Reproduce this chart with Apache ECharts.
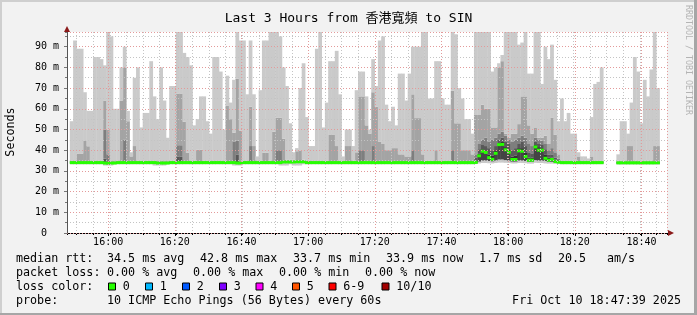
<!DOCTYPE html>
<html><head><meta charset="utf-8">
<script src="https://cdn.jsdelivr.net/npm/echarts@6/dist/echarts.min.js"></script>
<style>html,body{margin:0;padding:0;background:#f2f2f2}#c{width:697px;height:315px}</style>
</head><body><div id="c"></div>
<script>
// ---- data: one value per minute bin, 15:48 .. 18:47 (ms) ----
const rttMax = [54,93,89,89,68,59,59,85,85,84,
 81,100,95,60,60,80,90,59,39,75,
 80,51,58,58,83,66,55,80,64,46,
 71,71,100,100,87,85,81,52,55,66,
 66,54,48,85,85,78,50,76,63,74,
 100,93,93,67,93,67,37,69,93,93,
 100,100,100,95,80,71,53,39,41,70,
 82,56,42,42,89,100,51,63,83,83,
 88,67,37,50,50,42,69,78,78,66,
 50,84,71,93,95,62,54,61,52,77,
 77,64,77,90,90,90,100,100,65,65,
 83,83,65,62,62,100,96,70,65,55,
 55,48,100,100,100,100,100,78,80,82,
 86,100,100,100,100,91,92,100,77,77,
 100,100,72,90,84,91,74,54,65,54,
 58,48,48,39,37,37,36,56,72,73,
 80,null,null,null,null,38,54,54,48,63,
 85,78,53,74,66,79,100,70,null,null];
const rtt9 = [35.0,35.0,38.4,38.4,44.7,41.9,35.0,35.0,35.0,35.0,
 64.0,50.0,34.8,34.8,35.0,64.0,80.0,54.0,37.0,42.0,
 35.0,35.0,35.0,35.0,35.0,35.0,34.8,34.8,34.8,34.8,
 35.0,35.0,67.4,67.4,53.7,38.7,35.0,35.0,40.3,40.3,
 35.0,35.0,35.0,35.0,35.0,35.0,35.0,61.6,55.0,48.4,
 74.5,49.5,35.0,35.0,61.0,42.0,35.0,35.0,38.7,38.7,
 35.0,49.0,55.6,55.6,45.5,35.3,35.3,35.3,39.5,39.6,
 35.4,35.0,35.0,35.0,35.0,35.0,35.0,35.0,47.6,47.6,
 42.0,35.0,35.0,42.0,42.0,35.0,39.0,66.0,66.0,52.0,
 48.0,68.0,61.0,44.0,43.0,40.0,40.0,41.0,41.0,38.0,
 38.0,37.0,37.0,67.0,55.5,55.5,38.0,35.0,35.0,35.0,
 40.0,35.0,35.0,35.0,35.0,68.7,53.0,53.0,40.0,40.0,
 40.0,38.0,57.0,57.0,62.0,60.0,60.0,51.0,51.0,80.0,
 83.0,48.0,46.0,48.0,48.0,52.6,66.0,66.0,52.0,48.0,
 51.0,46.0,46.0,47.0,43.0,55.8,47.4,38.0,35.0,35.0,
 35.0,35.0,35.0,37.0,35.0,35.0,35.0,37.0,35.0,35.0,
 35.0,null,null,null,null,34.9,34.9,34.9,42.0,42.0,
 34.9,34.9,34.9,34.9,34.9,34.9,42.0,42.0,null,null];
const rtt8 = [34.6,34.6,34.6,34.6,34.6,34.6,34.6,34.6,34.6,34.6,
 50.0,38.0,34.4,34.4,34.6,34.6,45.0,34.6,34.6,34.6,
 34.6,34.6,34.6,34.6,34.6,34.6,34.4,34.4,34.4,34.4,
 34.6,34.6,42.4,42.4,34.6,34.6,34.6,34.6,34.6,34.6,
 34.6,34.6,34.6,34.6,34.6,34.6,34.6,34.6,34.6,44.0,
 44.7,34.4,34.6,34.6,42.0,34.6,34.6,34.6,34.6,34.6,
 34.6,34.6,40.0,40.0,34.9,34.9,34.9,34.9,35.0,35.0,
 35.0,34.6,34.6,34.6,34.6,34.6,34.6,34.6,34.6,34.6,
 34.6,34.6,34.6,34.6,34.6,34.6,34.6,40.0,40.0,34.6,
 34.6,42.0,34.6,34.6,34.6,34.6,34.6,34.6,34.6,34.6,
 34.6,34.6,34.6,40.0,34.6,34.6,34.6,34.6,34.6,34.6,
 34.6,34.6,34.6,34.6,34.6,40.0,34.6,34.6,34.6,34.6,
 34.6,34.8,38.0,43.0,45.0,46.0,44.0,45.0,46.0,48.0,
 49.0,47.0,45.0,44.0,45.0,46.0,47.0,46.0,43.0,42.0,
 46.0,45.0,44.5,43.0,40.0,41.0,39.0,36.0,34.6,34.6,
 34.6,34.6,34.6,34.6,34.6,34.6,34.6,34.6,34.6,34.6,
 34.6,null,null,null,null,34.5,34.5,34.5,34.5,34.5,
 34.5,34.5,34.5,34.5,34.5,34.5,34.5,34.5,null,null];
const rtt7 = [34.5,34.5,34.5,34.5,34.5,34.5,34.5,34.5,34.5,34.5,
 36.0,34.2,34.3,34.3,34.5,34.5,34.5,34.5,34.5,34.5,
 34.5,34.5,34.5,34.5,34.5,34.5,34.3,34.3,34.3,34.3,
 34.5,34.5,37.0,37.0,34.5,34.5,34.5,34.5,34.5,34.5,
 34.5,34.5,34.5,34.5,34.5,34.5,34.5,34.5,34.5,34.5,
 38.0,34.3,34.5,34.5,34.5,34.5,34.5,34.5,34.5,34.5,
 34.5,34.5,34.5,34.5,34.8,34.8,34.8,34.8,34.9,34.9,
 34.9,34.5,34.5,34.5,34.5,34.5,34.5,34.5,34.5,34.5,
 34.5,34.5,34.5,34.5,34.5,34.5,34.5,34.5,34.5,34.5,
 34.5,34.5,34.5,34.5,34.5,34.5,34.5,34.5,34.5,34.5,
 34.5,34.5,34.5,34.5,34.5,34.5,34.5,34.5,34.5,34.5,
 34.5,34.5,34.5,34.5,34.5,34.5,34.5,34.5,34.5,34.5,
 34.5,34.6,36.5,40.5,42.5,42.0,41.0,40.0,42.0,45.0,
 46.0,44.0,43.0,40.0,41.0,43.0,44.0,42.0,39.0,38.5,
 44.0,43.0,42.5,40.5,38.0,38.0,36.5,35.2,34.5,34.5,
 34.5,34.5,34.5,34.5,34.5,34.5,34.5,34.5,34.5,34.5,
 34.5,null,null,null,null,34.4,34.4,34.4,34.4,34.4,
 34.4,34.4,34.4,34.4,34.4,34.4,34.4,34.4,null,null];
const rtt6 = [34.4,34.4,34.4,34.4,34.4,34.4,34.4,34.4,34.4,34.4,
 34.2,34.1,34.2,34.2,34.4,34.4,34.4,34.4,34.4,34.4,
 34.4,34.4,34.4,34.4,34.4,34.4,34.2,34.2,34.2,34.2,
 34.4,34.4,34.4,34.4,34.4,34.4,34.4,34.4,34.4,34.4,
 34.4,34.4,34.4,34.4,34.4,34.4,34.4,34.4,34.4,34.4,
 34.2,34.2,34.4,34.4,34.4,34.4,34.4,34.4,34.4,34.4,
 34.4,34.4,34.4,34.4,34.7,34.7,34.7,34.7,34.8,34.8,
 34.8,34.4,34.4,34.4,34.4,34.4,34.4,34.4,34.4,34.4,
 34.4,34.4,34.4,34.4,34.4,34.4,34.4,34.4,34.4,34.4,
 34.4,34.4,34.4,34.4,34.4,34.4,34.4,34.4,34.4,34.4,
 34.4,34.4,34.4,34.4,34.4,34.4,34.4,34.4,34.4,34.4,
 34.4,34.4,34.4,34.4,34.4,34.4,34.4,34.4,34.4,34.4,
 34.4,34.4,35.0,38.5,40.5,40.0,38.0,37.5,40.0,43.5,
 44.0,41.5,40.5,37.0,37.5,41.0,41.0,39.0,36.5,36.5,
 42.5,41.5,41.0,38.0,36.5,36.5,35.5,34.8,34.4,34.4,
 34.4,34.4,34.4,34.4,34.4,34.4,34.4,34.4,34.4,34.4,
 34.4,null,null,null,null,34.3,34.3,34.3,34.3,34.3,
 34.3,34.3,34.3,34.3,34.3,34.3,34.3,34.3,null,null];
const rttMed = [34.0,34.0,34.0,34.0,34.0,34.0,34.0,34.0,34.0,34.0,
 33.8,33.7,33.8,33.8,34.0,34.0,34.0,34.0,34.0,34.0,
 34.0,34.0,34.0,34.0,34.0,34.0,33.8,33.8,33.8,33.8,
 34.0,34.0,34.0,34.0,34.0,34.0,34.0,34.0,34.0,34.0,
 34.0,34.0,34.0,34.0,34.0,34.0,34.0,34.0,34.0,34.0,
 33.8,33.8,34.0,34.0,34.0,34.0,34.0,34.0,34.0,34.0,
 34.0,34.0,34.0,34.0,34.3,34.3,34.3,34.3,34.4,34.4,
 34.4,34.0,34.0,34.0,34.0,34.0,34.0,34.0,34.0,34.0,
 34.0,34.0,34.0,34.0,34.0,34.0,34.0,34.0,34.0,34.0,
 34.0,34.0,34.0,34.0,34.0,34.0,34.0,34.0,34.0,34.0,
 34.0,34.0,34.0,34.0,34.0,34.0,34.0,34.0,34.0,34.0,
 34.0,34.0,34.0,34.0,34.0,34.0,34.0,34.0,34.0,34.0,
 34.0,34.0,34.1,37.3,39.5,38.9,36.4,35.6,38.5,42.7,
 42.8,40.2,39.0,35.5,35.5,39.7,39.5,37.0,35.2,35.2,
 41.6,40.0,40.0,36.1,35.2,35.5,34.5,34.2,34.0,34.0,
 34.0,34.0,34.0,34.0,34.0,34.0,34.0,34.0,34.0,34.0,
 34.0,null,null,null,null,33.9,33.9,33.9,33.9,33.9,
 33.9,33.9,33.9,33.9,33.9,33.9,33.9,33.9,null,null];
const rttLow = [33.6,33.6,33.6,33.6,33.6,33.6,33.6,33.6,33.6,33.6,
 33.4,33.3,33.4,33.4,33.6,33.6,33.6,33.6,33.6,33.6,
 33.6,33.6,33.6,33.6,33.6,33.6,33.4,33.4,33.4,33.4,
 33.6,33.6,33.6,33.6,33.6,33.6,33.6,33.6,33.6,33.6,
 33.6,33.6,33.6,33.6,33.6,33.6,33.6,33.6,33.6,33.6,
 33.4,33.4,33.6,33.6,33.6,33.6,33.6,33.6,33.6,33.6,
 33.6,33.6,33.6,33.6,33.9,33.9,33.9,33.9,34.0,34.0,
 34.0,33.6,33.6,33.6,33.6,33.6,33.6,33.6,33.6,33.6,
 33.6,33.6,33.6,33.6,33.6,33.6,33.6,33.6,33.6,33.6,
 33.6,33.6,33.6,33.6,33.6,33.6,33.6,33.6,33.6,33.6,
 33.6,33.6,33.6,33.6,33.6,33.6,33.6,33.6,33.6,33.6,
 33.6,33.6,33.6,33.6,33.6,33.6,33.6,33.6,33.6,33.6,
 33.6,33.6,33.7,34.5,35.0,35.0,34.8,34.6,35.0,35.5,
 35.5,35.2,35.0,34.5,34.5,35.0,35.0,34.8,34.5,34.5,
 35.2,35.0,35.0,34.8,34.5,34.4,34.2,33.9,33.6,33.6,
 33.6,33.6,33.6,33.6,33.6,33.6,33.6,33.6,33.6,33.6,
 33.6,null,null,null,null,33.5,33.5,33.5,33.5,33.5,
 33.5,33.5,33.5,33.5,33.5,33.5,33.5,33.5,null,null];
const rttMin = [33.2,33.2,33.2,33.2,33.2,33.2,33.2,33.2,33.2,33.2,
 32.6,32.6,32.6,33.2,33.2,33.2,33.2,33.2,33.2,33.2,
 33.2,33.2,33.2,33.2,33.2,32.6,32.6,32.6,32.6,33.2,
 33.2,33.2,33.2,33.2,33.2,33.2,33.2,33.2,33.2,33.2,
 33.2,33.2,33.2,33.2,33.2,33.2,33.2,33.2,33.2,32.6,
 32.6,32.6,33.2,33.2,33.2,33.2,33.2,33.2,33.2,33.2,
 33.2,33.2,33.2,32.6,32.6,32.6,33.2,32.6,32.6,32.6,
 33.2,33.2,33.2,33.2,33.2,33.2,33.2,33.2,33.2,33.2,
 33.2,33.2,33.2,33.2,33.2,33.2,33.2,33.2,33.2,33.2,
 33.2,33.2,33.2,33.2,33.2,33.2,33.2,33.2,33.2,33.2,
 33.2,33.2,33.2,33.2,33.2,33.2,33.2,33.2,33.2,33.2,
 33.2,33.2,33.2,33.2,33.2,33.2,33.2,33.2,33.2,33.2,
 33.2,33.2,33.3,33.6,33.8,33.8,33.7,33.6,33.8,34.0,
 34.0,33.9,33.8,33.6,33.6,33.8,33.8,33.7,33.5,33.5,
 33.9,33.8,33.8,33.6,33.5,33.5,33.4,33.3,33.2,33.2,
 33.2,33.2,33.2,33.2,33.2,33.2,33.2,33.2,33.2,33.2,
 33.2,null,null,null,null,33.1,33.1,33.1,33.1,33.1,
 33.1,33.1,33.1,33.1,33.1,33.1,33.1,33.1,null,null];
const yTickUnit = ' m';
const titleText = 'Last 3 Hours from 香港寬頻 to SIN';
const lossLabels = ['0','1','2','3','4','5','6-9','10/10'];
const lossColors = ['#26ff00','#00b8ff','#0059ff','#7e00ff','#ff00ff','#ff5500','#ff0000','#a10000'];

// ---- layout ----
const START = new Date(2025, 9, 10, 15, 47, 39).getTime();
const END = START + 3 * 3600 * 1000;
const FIRST_BIN = new Date(2025, 9, 10, 15, 48, 0).getTime();
const times = rttMax.map((_, k) => FIRST_BIN + k * 60000 + 30000);
const MED_HALF = 0.72;
const BAR_W = 3.75;
const MONO = "'DejaVu Sans Mono', 'Noto Sans CJK TC', monospace";
// time-scale picks the nice step just below the requested one
const MINOR_STEP = 5.5 * 60000;   // -> 5 min grid
const MAJOR_STEP = 21 * 60000;    // -> 20 min grid

function diff(hi, lo) {
  return times.map((t, k) => (hi[k] == null) ? [t, null] : [t, lo ? +(hi[k] - lo[k]).toFixed(3) : hi[k]]);
}
const bands = [
  [rttMin, null, 'rgba(0,0,0,0)'],
  [rttLow, rttMin, '#cacaca'],
  [rttMed, rttLow, '#444444'],
  [rtt6, rttMed, '#323232'],
  [rtt7, rtt6, '#585858'],
  [rtt8, rtt7, '#7e7e7e'],
  [rtt9, rtt8, '#a4a4a4'],
  [rttMax, rtt9, '#cacaca']
];
const series = bands.map((b, i) => ({
  type: 'bar', stack: 'smoke', xAxisIndex: 0, yAxisIndex: 0,
  barWidth: BAR_W, barGap: '-100%', silent: true,
  itemStyle: { color: b[2], borderWidth: 0 },
  data: diff(b[0], b[1])
}));
series.push({
  type: 'bar', stack: 'median', barWidth: BAR_W, barGap: '-100%', silent: true,
  itemStyle: { color: 'rgba(0,0,0,0)' },
  data: times.map((t, k) => [t, rttMed[k] == null ? null : +(rttMed[k] - MED_HALF).toFixed(3)])
});
series.push({
  type: 'bar', stack: 'median', barWidth: BAR_W, barGap: '-100%', silent: true,
  itemStyle: { color: '#26ff00' },
  data: times.map((t, k) => [t, rttMed[k] == null ? null : 2 * MED_HALF])
});

const pad = n => (n < 10 ? '0' : '') + n;
const chart = echarts.init(document.getElementById('c'), null, { renderer: 'canvas' });

const legendFont = { fontFamily: MONO, fontSize: 11.7, fill: '#000' };
function txt(x, y, s, extra) {
  return { type: 'text', x, y, z: 10, style: Object.assign({ text: s, verticalAlign: 'middle', align: 'left' }, legendFont, extra || {}) };
}
const graphics = [
  { type: 'rect', shape: { x: 0, y: 0, width: 697, height: 2 }, style: { fill: '#cfcfcf' }, z: 20 },
  { type: 'rect', shape: { x: 0, y: 0, width: 2, height: 315 }, style: { fill: '#cfcfcf' }, z: 20 },
  { type: 'rect', shape: { x: 694, y: 0, width: 3, height: 315 }, style: { fill: '#a6a6a6' }, z: 20 },
  { type: 'rect', shape: { x: 0, y: 313, width: 697, height: 2 }, style: { fill: '#a6a6a6' }, z: 20 },
  { type: 'polygon', shape: { points: [[64, 32], [70, 32], [67, 26]] }, style: { fill: '#8b1a1a' }, z: 20 },
  { type: 'polygon', shape: { points: [[668, 230], [668, 236], [674, 233]] }, style: { fill: '#8b1a1a' }, z: 20 },
  { type: 'text', x: 11, y: 132, rotation: Math.PI / 2, z: 10,
    style: { text: 'Seconds', fontFamily: MONO, fontSize: 11.7, fill: '#000', align: 'center', verticalAlign: 'middle' } },
  { type: 'text', x: 688, y: 60, rotation: -Math.PI / 2, z: 10,
    style: { text: 'RRDTOOL / TOBI OETIKER', fontFamily: MONO, fontSize: 8.3, fill: '#b4b4b4', align: 'center', verticalAlign: 'middle' } },
  txt(16, 259.3, 'median rtt:'), txt(107, 259.3, '34.5 ms avg'), txt(200, 259.3, '42.8 ms max'),
  txt(293, 259.3, '33.7 ms min'), txt(386, 259.3, '33.9 ms now'), txt(479, 259.3, '1.7 ms sd'),
  txt(558, 259.3, '20.5'), txt(607, 259.3, 'am/s'),
  txt(16, 273.3, 'packet loss:'), txt(107, 273.3, '0.00 % avg'), txt(193, 273.3, '0.00 % max'),
  txt(279, 273.3, '0.00 % min'), txt(365, 273.3, '0.00 % now'),
  txt(16, 286.8, 'loss color:'),
  txt(16, 301, 'probe:'), txt(107, 301, '10 ICMP Echo Pings (56 Bytes) every 60s'),
  txt(681, 301, 'Fri Oct 10 18:47:39 2025', { align: 'right' })
];
const boxX = [108.5, 145.5, 182.5, 219.5, 256, 292.5, 329, 382];
lossLabels.forEach((l, i) => {
  graphics.push({ type: 'rect', z: 10, shape: { x: boxX[i], y: 283, width: 7, height: 7 },
    style: { fill: lossColors[i], stroke: '#000', lineWidth: 1 } });
  graphics.push(txt(boxX[i] + 14.3, 286.8, l));
});

const dots = [1, 2];
chart.setOption({
  animation: false,
  backgroundColor: '#f2f2f2',
  title: { text: titleText, left: 'center', top: 7,
    textStyle: { fontFamily: MONO, fontSize: 13, fontWeight: 'normal', color: '#000' } },
  grid: { left: 67, right: 30, top: 32, bottom: 82, show: true, backgroundColor: '#ffffff', borderWidth: 0 },
  xAxis: [
    { type: 'time', position: 'bottom', min: START, max: END, minInterval: MINOR_STEP, maxInterval: MINOR_STEP, z: 3,
      axisLine: { show: true, onZero: false, lineStyle: { color: '#000', width: 1 } },
      axisTick: { show: true, length: 2, lineStyle: { color: '#000' } },
      axisLabel: { show: false },
      splitLine: { show: true, lineStyle: { color: '#c4c4c4', type: dots, width: 1 } } },
    { type: 'time', position: 'bottom', offset: 0, min: START, max: END, minInterval: MAJOR_STEP, maxInterval: MAJOR_STEP, z: 4,
      axisLine: { show: false, onZero: false },
      axisTick: { show: true, length: 3, lineStyle: { color: '#000' } },
      axisLabel: { show: true, showMinLabel: false, showMaxLabel: false, margin: 4, color: '#000',
        fontFamily: MONO, fontSize: 10,
        formatter: v => { const d = new Date(v); return pad(d.getHours()) + ':' + pad(d.getMinutes()); } },
      splitLine: { show: true, lineStyle: { color: '#e39a9a', type: dots, width: 1 } } }
  ],
  yAxis: [
    { type: 'value', min: 0, max: 97.1, interval: 10, z: 4,
      axisLine: { show: true, lineStyle: { color: '#555', width: 1 } },
      axisTick: { show: true, length: 3, lineStyle: { color: '#777' } },
      axisLabel: { showMaxLabel: false, margin: 8, color: '#000', fontFamily: MONO, fontSize: 10,
        formatter: v => v === 0 ? '0  ' : v + yTickUnit },
      splitLine: { show: true, lineStyle: { color: '#e39a9a', type: dots, width: 1 } } },
    { type: 'value', min: 0, max: 97.1, interval: 5, z: 3, position: 'left', offset: 0,
      axisLine: { show: false },
      axisTick: { show: true, length: 2, lineStyle: { color: '#777' } },
      axisLabel: { show: false },
      splitLine: { show: true, lineStyle: { color: '#c4c4c4', type: dots, width: 1 } } }
  ],
  series: series,
  graphic: graphics
});
</script></body></html>
